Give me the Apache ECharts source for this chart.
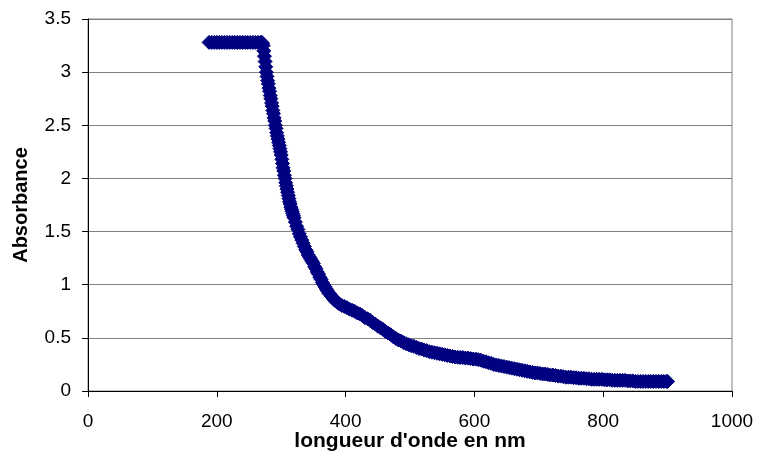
<!DOCTYPE html>
<html>
<head>
<meta charset="utf-8">
<script src="https://cdn.jsdelivr.net/npm/echarts@6/dist/echarts.min.js"></script>
<style>
html,body{margin:0;padding:0;background:#fff;}
#chart{width:758px;height:452px;}
</style>
</head>
<body>
<div id="chart"></div>
<script>
// wavelength (nm)
var wavelength = [
  188,192,196,200,204,208,212,216,220,224,228,232,236,240,244,248,252,256,260,264,268,
  270,271,272,273,274,275,276,277,278,279,280,281,282,283,284,285,286,287,288,289,
  290,291,292,293,294,295,296,297,298,299,300,301,302,303,304,305,306,307,308,309,
  310,311,312,313,314,315,316,317,318,319,320,
  322,324,326,328,330,332,334,336,338,340,342,344,346,348,350,352,354,356,358,360,
  362,364,366,368,370,372,374,376,378,380,382,384,386,388,390,
  394,398,402,406,410,414,418,422,426,430,434,438,442,446,450,454,458,462,466,470,
  474,478,482,486,490,494,498,502,506,510,514,518,522,526,530,534,538,542,546,550,
  554,558,562,566,570,574,578,582,586,590,594,598,602,606,610,614,618,622,626,630,
  634,638,642,646,650,654,658,662,666,670,674,678,682,686,690,694,698,702,706,710,
  714,718,722,726,730,734,738,742,746,750,754,758,762,766,770,774,778,782,786,790,
  794,798,802,806,810,814,818,822,826,830,834,838,842,846,850,854,858,862,866,870,
  874,878,882,886,890,894,898,900
];
// absorbance
var absorbance = [
  3.28,3.28,3.28,3.28,3.28,3.28,3.28,3.28,3.28,3.28,3.28,3.28,3.28,3.28,3.28,3.28,3.28,3.28,3.28,3.28,3.28,
  3.28,3.27,3.25,3.20,3.15,3.10,3.05,3.00,2.96,2.92,2.89,2.85,2.82,2.78,2.75,2.71,2.68,2.64,2.61,2.57,
  2.54,2.50,2.47,2.43,2.40,2.37,2.34,2.31,2.28,2.25,2.22,2.18,2.14,2.10,2.07,2.03,2.00,1.96,1.93,1.90,
  1.87,1.84,1.81,1.78,1.76,1.73,1.71,1.69,1.67,1.65,1.63,
  1.59,1.55,1.52,1.48,1.45,1.42,1.39,1.36,1.33,1.31,1.28,1.26,1.24,1.22,1.20,1.17,1.15,1.12,1.10,1.07,
  1.05,1.02,1.00,0.98,0.96,0.94,0.92,0.91,0.89,0.88,0.86,0.85,0.84,0.83,0.82,
  0.805,0.795,0.785,0.77,0.76,0.75,0.735,0.725,0.71,0.69,0.68,0.665,0.645,0.63,0.61,0.595,0.58,0.56,0.545,0.53,
  0.51,0.495,0.48,0.47,0.455,0.445,0.435,0.425,0.42,0.41,0.40,0.395,0.385,0.38,0.37,0.365,0.36,0.355,0.35,0.345,
  0.34,0.335,0.33,0.325,0.32,0.318,0.315,0.315,0.31,0.31,0.305,0.30,0.30,0.295,0.29,0.28,0.275,0.265,0.26,0.25,
  0.245,0.24,0.235,0.23,0.225,0.22,0.215,0.21,0.205,0.20,0.195,0.19,0.185,0.18,0.175,0.17,0.17,0.165,0.16,0.16,
  0.155,0.15,0.15,0.145,0.14,0.14,0.135,0.13,0.13,0.13,0.125,0.125,0.12,0.12,0.12,0.115,0.115,0.11,0.11,0.11,
  0.11,0.11,0.105,0.105,0.105,0.10,0.10,0.10,0.10,0.10,0.10,0.095,0.095,0.095,0.09,0.09,0.09,0.09,0.09,0.09,
  0.09,0.09,0.09,0.09,0.09,0.09,0.09,0.09
];
var xTicks = [0, 200, 400, 600, 800, 1000];
var yTicks = [0, 0.5, 1, 1.5, 2, 2.5, 3, 3.5];

var points = wavelength.map(function (w, i) { return [w, absorbance[i]]; });

var chart = echarts.init(document.getElementById('chart'), null, {renderer: 'canvas'});
var font = 'Liberation Sans, Arial, sans-serif';
chart.setOption({
  animation: false,
  backgroundColor: '#ffffff',
  grid: {left: 88, right: 26, top: 19, bottom: 61, show: true, borderColor: '#808080', borderWidth: 1,
    containLabel: false, outerBoundsMode: 'none'},
  xAxis: {
    type: 'value', min: xTicks[0], max: xTicks[xTicks.length - 1], interval: 200,
    name: "longueur d'onde en nm", nameLocation: 'middle', nameGap: 40, nameMoveOverlap: false,
    nameTextStyle: {fontFamily: font, fontSize: 21, fontWeight: 'bold', color: '#000'},
    axisLine: {show: true, onZero: false, lineStyle: {color: '#000', width: 1}},
    axisTick: {show: true, inside: false, length: 6, lineStyle: {color: '#000'}},
    axisLabel: {fontFamily: font, fontSize: 19, color: '#000', margin: 21,
      formatter: function (v) { return String(v); }},
    splitLine: {show: false}
  },
  yAxis: {
    type: 'value', min: yTicks[0], max: yTicks[yTicks.length - 1], interval: 0.5,
    name: 'Absorbance', nameLocation: 'middle', nameGap: 57, nameRotate: 90, nameMoveOverlap: false,
    nameTextStyle: {fontFamily: font, fontSize: 20, fontWeight: 'bold', color: '#000'},
    axisLine: {show: true, lineStyle: {color: '#000', width: 1}},
    axisTick: {show: true, inside: false, length: 6, lineStyle: {color: '#000'}},
    axisLabel: {fontFamily: font, fontSize: 19, color: '#000', margin: 17,
      formatter: function (v) { return String(v); }},
    splitLine: {show: true, lineStyle: {color: '#808080', width: 1}}
  },
  series: [{
    type: 'scatter',
    data: points,
    symbol: 'diamond',
    symbolSize: 14,
    itemStyle: {color: '#000080', borderColor: '#000080', borderWidth: 1, opacity: 1}
  }]
});
</script>
</body>
</html>
